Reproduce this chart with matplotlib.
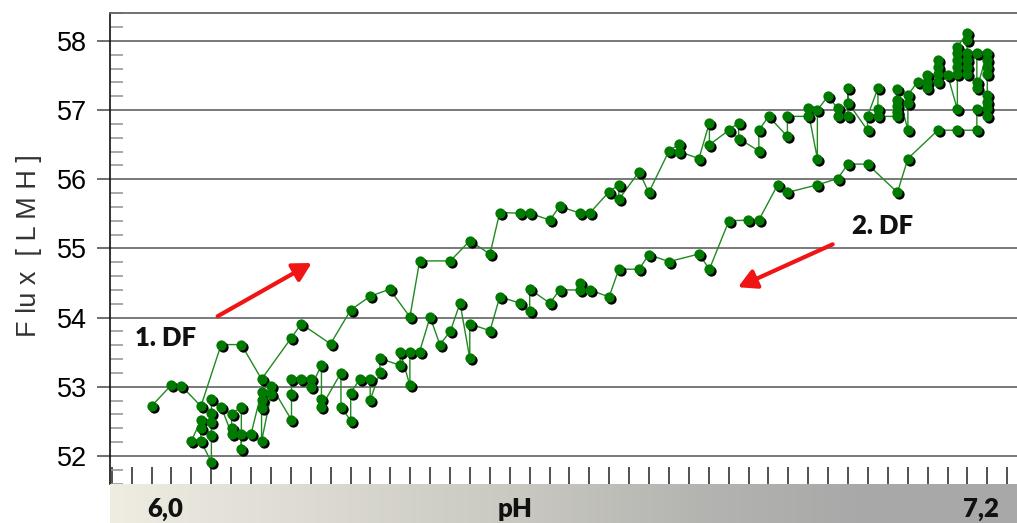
import numpy as np
import matplotlib.pyplot as plt
from matplotlib import transforms
from matplotlib.colors import LinearSegmentedColormap

# 1. DF: run with rising pH
ph_up = [6.000, 6.028, 6.043, 6.071, 6.100, 6.129, 6.158, 6.201, 6.215, 6.257,
         6.286, 6.314, 6.342, 6.371, 6.385, 6.429, 6.457, 6.486, 6.500, 6.529,
         6.543, 6.572, 6.586, 6.615, 6.629, 6.657, 6.671, 6.671, 6.700, 6.714,
         6.743, 6.758, 6.758, 6.786, 6.801, 6.801, 6.829, 6.843, 6.843, 6.872,
         6.872, 6.886, 6.913, 6.913, 6.942, 6.942, 6.956, 6.956, 6.971, 6.985,
         6.985, 7.000, 7.000, 7.000, 7.028, 7.028, 7.043, 7.043, 7.043, 7.071,
         7.071, 7.071, 7.071, 7.071, 7.086, 7.086, 7.086, 7.100, 7.114, 7.114,
         7.114, 7.129, 7.129, 7.129, 7.129, 7.143, 7.157, 7.157, 7.157, 7.157,
         7.157, 7.157, 7.171, 7.171, 7.171, 7.171, 7.171, 7.171, 7.185, 7.185,
         7.185, 7.200, 7.200, 7.200, 7.200, 7.200, 7.200, 7.200, 7.200, 7.185]
flux_up = [52.72, 53.02, 53.01, 52.72, 53.61, 53.61, 53.11, 53.71, 53.91, 53.62,
           54.11, 54.31, 54.41, 54.01, 54.82, 54.82, 55.11, 54.92, 55.52, 55.51,
           55.51, 55.41, 55.61, 55.51, 55.51, 55.82, 55.92, 55.71, 56.11, 55.81,
           56.41, 56.51, 56.40, 56.30, 56.82, 56.50, 56.71, 56.82, 56.59, 56.41,
           56.71, 56.91, 56.62, 56.91, 56.91, 57.03, 56.30, 57.00, 57.20, 57.03,
           56.91, 56.91, 57.32, 57.11, 56.71, 56.91, 57.32, 57.01, 56.91, 56.91,
           56.98, 57.06, 57.15, 57.30, 56.71, 57.10, 57.22, 57.41, 57.32, 57.41,
           57.51, 57.41, 57.53, 57.63, 57.73, 57.51, 57.01, 57.53, 57.63, 57.73,
           57.82, 57.92, 58.11, 58.01, 57.82, 57.73, 57.63, 57.53, 57.82, 57.41,
           57.32, 57.82, 57.73, 57.63, 57.53, 57.22, 57.12, 57.03, 56.91, 57.01]

# 2. DF: run back down
ph_down = [7.185, 7.157, 7.129, 7.086, 7.071, 7.028, 7.000, 6.985, 6.956, 6.913,
           6.899, 6.872, 6.857, 6.829, 6.801, 6.786, 6.743, 6.714, 6.700, 6.671,
           6.657, 6.629, 6.615, 6.615, 6.586, 6.572, 6.543, 6.543, 6.529, 6.500,
           6.486, 6.457, 6.457, 6.443, 6.429, 6.414, 6.400, 6.385, 6.371, 6.371,
           6.357, 6.357, 6.328, 6.328, 6.314, 6.314, 6.299, 6.286, 6.286, 6.272,
           6.272, 6.244, 6.244, 6.244, 6.229, 6.229, 6.215, 6.201, 6.201, 6.201,
           6.172, 6.172, 6.158, 6.158, 6.158, 6.158, 6.143, 6.129, 6.129, 6.129,
           6.115, 6.115, 6.115, 6.100, 6.086, 6.086, 6.086, 6.086, 6.086, 6.071,
           6.071, 6.071, 6.057]
flux_down = [56.71, 56.71, 56.71, 56.30, 55.81, 56.22, 56.22, 56.01, 55.92, 55.81,
             55.92, 55.41, 55.41, 55.40, 54.70, 54.92, 54.81, 54.91, 54.70, 54.70,
             54.30, 54.40, 54.50, 54.40, 54.40, 54.21, 54.41, 54.10, 54.21, 54.30,
             53.81, 53.91, 53.41, 54.21, 53.80, 53.61, 54.01, 53.51, 53.51, 53.02,
             53.51, 53.31, 53.41, 53.21, 52.81, 53.11, 53.11, 52.91, 52.51, 52.71,
             53.20, 52.71, 52.82, 53.31, 53.00, 53.11, 53.11, 53.11, 52.90, 52.52,
             53.01, 52.90, 52.21, 52.70, 52.81, 52.93, 52.32, 52.32, 52.10, 52.71,
             52.61, 52.41, 52.32, 52.71, 52.82, 52.62, 52.49, 52.30, 51.91, 52.21,
             52.41, 52.52, 52.21]

y_ticks = [52, 53, 54, 55, 56, 57, 58]
bar_labels = ["6,0", "pH", "7,2"]
run_labels = ["1. DF", "2. DF"]

W, H = 1017, 523
fig = plt.figure(figsize=(W / 100, H / 100), dpi=100)
ax = fig.add_axes([110 / W, 39 / H, 907 / W, 471 / H])

ph = ph_up + ph_down
flux = flux_up + flux_down

# connecting line, then dots with a small black drop shadow
ax.plot(ph, flux, color='#1f8a1f', lw=1.0, zorder=3)
shadow = transforms.offset_copy(ax.transData, fig=fig, x=2, y=-2, units='dots')
ax.plot(ph, flux, 'o', ms=7.4, color='black', mec='none', transform=shadow, zorder=4)
ax.plot(ph, flux, 'o', ms=7.4, color='#007a00', mec='none', zorder=5)

ax.set_xlim(6 - 41.5 / 696.5, 6 + 865.5 / 696.5)
ax.set_ylim(51.594, 58.405)

# y axis: integer grid, outer major ticks, inner minor ticks every 0.2
ax.set_yticks(y_ticks)
ax.set_yticks(np.arange(51.6, 58.41, 0.2), minor=True)
ax.yaxis.grid(True, which='major', color='#6e6e6e', lw=1.3, zorder=1)
ax.tick_params(axis='y', which='major', direction='out', length=9.5, width=1.2,
               color='#555555', labelsize=19.5, pad=7)
ax.tick_params(axis='y', which='minor', direction='in', length=9, width=1.2,
               color='#999999')
for lab in ax.get_yticklabels():
    lab.set_family('Liberation Sans')

# x axis: plain inner ticks, values are written on the bar below
ax.set_xticks(6.0 + np.arange(-2, 44) / 35)
ax.tick_params(axis='x', which='major', direction='in', length=12, width=1.1,
               color='#222222', labelbottom=False)

ax.spines['right'].set_visible(False)
ax.spines['bottom'].set_visible(False)
ax.spines['top'].set_color('#666666')
ax.spines['top'].set_linewidth(1.3)
ax.spines['left'].set_color('#111111')
ax.spines['left'].set_linewidth(1.2)

# red direction arrows and run labels
arrow = dict(arrowstyle='-|>,head_length=0.55,head_width=0.3', color='#f01414',
             lw=3, mutation_scale=20, shrinkA=0, shrinkB=0)
ax.annotate('', xy=(6.230, 54.79), xytext=(6.095, 54.02), arrowprops=arrow, zorder=6)
ax.annotate('', xy=(6.842, 54.44), xytext=(6.978, 55.06), arrowprops=arrow, zorder=6)
ax.text(6.020, 53.70, run_labels[0], fontsize=18.5, fontweight='heavy', family='Lato',
        ha='center', va='center', color='#111111')
ax.text(7.049, 55.32, run_labels[1], fontsize=18.5, fontweight='heavy', family='Lato',
        ha='center', va='center', color='#111111')

fig.text(29 / W, 1 - 246 / H, "F lu x  [ L M H ]", rotation=90, fontsize=19.5,
         family='Liberation Sans', ha='center', va='center', color='#333333')

# shaded pH bar under the plot
bar = fig.add_axes([110 / W, 0, 907 / W, 39 / H])
cmap = LinearSegmentedColormap.from_list(
    'phbar', [(0, '#efece2'), (0.45, '#c9c8c1'), (0.65, '#b4b4b1'),
              (0.82, '#a9a9a9'), (1, '#a8a8a8')])
bar.imshow(np.linspace(0, 1, 600)[None, :], aspect='auto', cmap=cmap,
           extent=[0, 1, 0, 1])
bar.set_xlim(0, 1)
bar.set_ylim(0, 1)
bar.axis('off')
for xf, lab in zip([0.0606, 0.4465, 0.960], bar_labels):
    bar.text(xf, 0.36, lab, fontsize=18.5, fontweight='heavy', family='Lato',
             ha='center', va='center', color='#111111')

fig.savefig('out.png', dpi=100)
